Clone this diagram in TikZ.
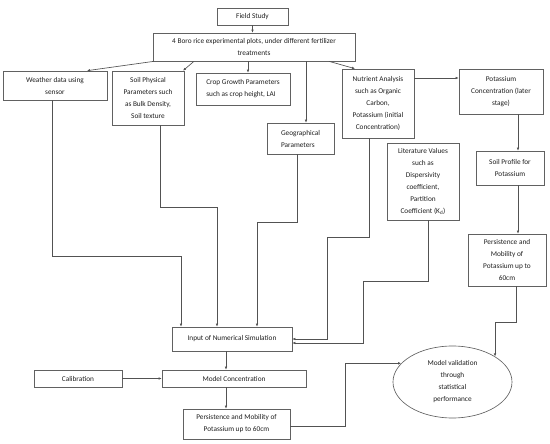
\documentclass[tikz,border=0pt]{standalone}
\usepackage{fontspec}
\setmainfont{Carlito}
\usetikzlibrary{arrows.meta,shapes.geometric,calc}
\begin{document}
\begin{tikzpicture}[x=1pt,y=-1pt,
 box/.style={draw=black!62,line width=0.65pt,rectangle,inner sep=1pt,align=center,font=\fontsize{7.3}{12}\selectfont,fill=white,text=black!88},
 conn/.style={draw=black!68,line width=0.65pt,-{Latex[length=3pt,width=2.6pt]}}]
\useasboundingbox[fill=white] (0,0) rectangle (550,444);
\node[box,minimum width=71pt,minimum height=17pt] (field) at (252.5,16.5) {Field Study};
\node[box,minimum width=202pt,minimum height=28pt] (boro) at (254,47) {4 Boro rice experimental plots, under different fertilizer\\treatments};
\node[box,minimum width=104pt,minimum height=29pt] (weather) at (55,85.5) {Weather data using\\sensor};
\node[box,minimum width=72pt,minimum height=54pt] (soilphys) at (148,98) {Soil Physical\\Parameters such\\as Bulk Density,\\Soil texture};
\node[box,align=left,minimum width=94pt,minimum height=32pt] (crop) at (243,89) {Crop Growth Parameters\\such as crop height, LAI};
\node[box,align=left,minimum width=67pt,minimum height=31pt] (geo) at (300.5,138.5) {Geographical\\Parameters};
\node[box,minimum width=72pt,minimum height=69pt] (nutr) at (378,103.5) {Nutrient Analysis\\such as Organic\\Carbon,\\Potassium (initial\\Concentration)};
\node[box,minimum width=84pt,minimum height=45pt] (potc) at (501,91.5) {Potassium\\Concentration (later\\stage)};
\node[box,minimum width=72pt,minimum height=77pt] (lit) at (423,181.5) {Literature Values\\such as\\Dispersivity\\coefficient,\\Partition\\Coefficient (K\textsubscript{d})};
\node[box,minimum width=68pt,minimum height=34pt] (soilprof) at (510,168) {Soil Profile for\\Potassium};
\node[box,minimum width=78pt,minimum height=52pt] (persR) at (507,260) {Persistence and\\Mobility of\\Potassium up to\\60cm};
\node[box,minimum width=120pt,minimum height=24pt] (input) at (232,339) {Input of Numerical Simulation};
\node[box,minimum width=144pt,minimum height=17pt] (model) at (234,378.5) {Model Concentration};
\node[box,minimum width=88pt,minimum height=17pt] (calib) at (78,378.5) {Calibration};
\node[box,minimum width=107pt,minimum height=30pt] (persB) at (236.5,424) {Persistence and Mobility of\\Potassium up to 60cm};
\node[box,ellipse,inner sep=0pt,minimum width=119pt,minimum height=72pt] (valid) at (452.5,382) {Model validation\\through\\statistical\\performance};

\draw[conn] (field.south) -- (field.south |- boro.north);
\draw[conn] (boro.south -| 154,0) -- (weather.north -| 87,0);
\draw[conn] (boro.south -| 194,0) -- (soilphys.north -| 183,0);
\draw[conn] (boro.south -| 248,0) -- (crop.north -| 248,0);
\draw[conn] (boro.south -| 306,0) -- (geo.north -| 306,0);
\draw[conn] (boro.south -| 329,0) -- (nutr.north -| 355,0);
\draw[conn] (nutr.east |- 0,78) -- (potc.west |- 0,78);
\draw[conn] (potc.south -| 518,0) -- (soilprof.north -| 518,0);
\draw[conn] (soilprof.south -| 518,0) -- (persR.north -| 518,0);
\draw[conn] (persR.south -| 516,0) |- (valid.31.9 |- 0,322) -- (valid.31.9);
\draw[conn] (weather.south -| 52,0) |- (181,256) -- (181,256 |- input.north);
\draw[conn] (soilphys.south -| 160,0) |- (217,207) -- (217,207 |- input.north);
\draw[conn] (geo.south -| 297,0) |- (257,222) -- (257,222 |- input.north);
\draw[conn] (nutr.south -| 369,0) |- (327,237) |- (input.east |- 0,339);
\draw[conn] (lit.south -| 428,0) |- (363,281) |- (input.east |- 0,343);
\draw[conn] (input.south -| 226,0) -- (model.north -| 226,0);
\draw[conn] (calib) -- (model);
\draw[conn] (model.south -| 226,0) -- (persB.north -| 226,0);
\draw[conn] (persB.east |- 0,426) -| (345,0 |- valid.160.7) -- (valid.160.7);
\end{tikzpicture}
\end{document}
